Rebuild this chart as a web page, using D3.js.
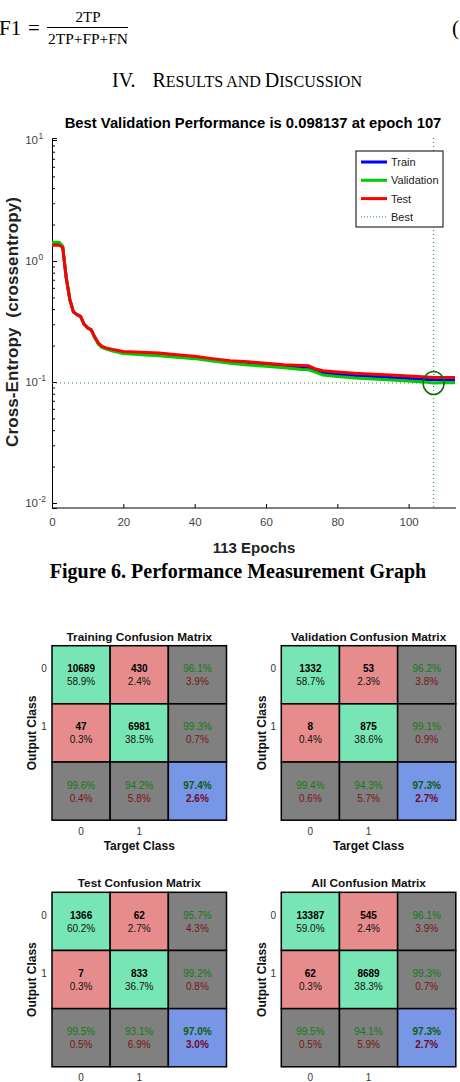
<!DOCTYPE html>
<html><head><meta charset="utf-8">
<script src="https://cdn.jsdelivr.net/npm/d3@7"></script>
<style>body{margin:0;background:#fff}svg{display:block}</style>
</head><body>
<svg id="c" width="460" height="1082"></svg>
<script>
// ---------- performance data ----------
const epochs =        [0,1,2,3,4,5,6,7,8,9,10,11,12,13,14,15,17,20,25,30,35,40,45,50,55,60,65,70,72,74,76,80,85,90,95,100,105,107,110,113];
const trainLoss =     [1.40,1.40,1.40,1.31,0.725,0.48,0.38,0.36,0.348,0.30,0.28,0.27,0.234,0.208,0.195,0.19,0.183,0.176,0.172,0.170,0.165,0.160,0.153,0.147,0.142,0.139,0.134,0.131,0.130,0.124,0.119,0.116,0.113,0.111,0.109,0.107,0.105,0.1045,0.104,0.104];
const validationLoss =[1.43,1.43,1.43,1.33,0.73,0.48,0.38,0.36,0.345,0.30,0.28,0.27,0.232,0.205,0.193,0.188,0.180,0.172,0.168,0.165,0.160,0.156,0.149,0.143,0.138,0.135,0.131,0.127,0.126,0.120,0.114,0.111,0.108,0.106,0.104,0.102,0.0995,0.098137,0.0985,0.0988];
const testLoss =      [1.35,1.35,1.35,1.30,0.72,0.48,0.38,0.36,0.35,0.30,0.28,0.27,0.235,0.21,0.197,0.192,0.186,0.179,0.176,0.174,0.168,0.163,0.156,0.150,0.147,0.143,0.139,0.137,0.136,0.128,0.124,0.121,0.118,0.116,0.114,0.112,0.110,0.109,0.109,0.109];
const bestEpoch = 107, bestValue = 0.098137, totalEpochs = 113;
const xTickValues = [0,20,40,60,80,100];
const yTickExponents = [-2,-1,0,1];
const legendNames = ["Train","Validation","Test","Best"];

// ---------- confusion data ----------
const classLabels = ["0","1"];
const trainingCounts = [[10689,430],[47,6981]];
const trainingPercents = [["58.9%","2.4%"],["0.3%","38.5%"]];
const trainingRowStats = [["96.1%","3.9%"],["99.3%","0.7%"]];
const trainingColStats = [["99.6%","0.4%"],["94.2%","5.8%"]];
const trainingTotal = ["97.4%","2.6%"];
const validationCounts = [[1332,53],[8,875]];
const validationPercents = [["58.7%","2.3%"],["0.4%","38.6%"]];
const validationRowStats = [["96.2%","3.8%"],["99.1%","0.9%"]];
const validationColStats = [["99.4%","0.6%"],["94.3%","5.7%"]];
const validationTotal = ["97.3%","2.7%"];
const testCounts = [[1366,62],[7,833]];
const testPercents = [["60.2%","2.7%"],["0.3%","36.7%"]];
const testRowStats = [["95.7%","4.3%"],["99.2%","0.8%"]];
const testColStats = [["99.5%","0.5%"],["93.1%","6.9%"]];
const testTotal = ["97.0%","3.0%"];
const allCounts = [[13387,545],[62,8689]];
const allPercents = [["59.0%","2.4%"],["0.3%","38.3%"]];
const allRowStats = [["96.1%","3.9%"],["99.3%","0.7%"]];
const allColStats = [["99.5%","0.5%"],["94.1%","5.9%"]];
const allTotal = ["97.3%","2.7%"];

const svg = d3.select("#c");
const SANS = "'Liberation Sans', Arial, sans-serif";
const SERIF = "'Liberation Serif', 'Times New Roman', serif";

// ---------- header text ----------
svg.append("text").attr("x",-1).attr("y",35).attr("font-family",SERIF).attr("font-size",21).text("F1");
svg.append("text").attr("x",28).attr("y",35).attr("font-family",SERIF).attr("font-size",21).text("=");
svg.append("text").attr("x",88).attr("y",22).attr("text-anchor","middle").attr("font-family",SERIF).attr("font-size",15)
  .attr("textLength",25).attr("lengthAdjust","spacingAndGlyphs").text("2TP");
svg.append("line").attr("x1",47).attr("x2",128).attr("y1",27.5).attr("y2",27.5).attr("stroke","#000").attr("stroke-width",1);
svg.append("text").attr("x",88).attr("y",44).attr("text-anchor","middle").attr("font-family",SERIF).attr("font-size",15)
  .attr("textLength",80).attr("lengthAdjust","spacingAndGlyphs").text("2TP+FP+FN");
svg.append("text").attr("x",452).attr("y",35).attr("font-family",SERIF).attr("font-size",21).text("(");
const hd = svg.append("text").attr("x",112).attr("y",87).attr("font-family",SERIF).attr("font-size",20);
hd.append("tspan").text("IV.");
hd.append("tspan").attr("x",152.5).text("R");
hd.append("tspan").attr("font-size",16).text("ESULTS AND ");
hd.append("tspan").text("D");
hd.append("tspan").attr("font-size",16).text("ISCUSSION");

// ---------- performance chart ----------
const x = d3.scaleLinear().domain([0,totalEpochs]).range([52,455]);
const y = d3.scaleLog().domain([Math.pow(10,-2-5/121), Math.pow(10,1+2/121)]).range([508,138]);

svg.append("text").attr("x",253).attr("y",128).attr("text-anchor","middle").attr("font-family",SANS)
  .attr("font-weight","bold").attr("font-size",14.8).text("Best Validation Performance is 0.098137 at epoch 107");

// y axis
const yAx = svg.append("g").attr("transform","translate(52,0)")
  .call(d3.axisLeft(y).tickValues(yTickExponents.map(e=>Math.pow(10,e))).tickSize(-5).tickFormat(""));
const minor = [];
yTickExponents.slice(0,3).forEach(e=>{for(let k=2;k<=9;k++) minor.push(k*Math.pow(10,e));});
svg.append("g").attr("transform","translate(52,0)")
  .call(d3.axisLeft(y).tickValues(minor).tickSize(-3).tickFormat("")).select(".domain").remove();
svg.selectAll(".tick line").attr("stroke","#000");
yAx.select(".domain").attr("stroke","#000");
yTickExponents.forEach(e=>{
  svg.append("text").attr("x",38).attr("y",y(Math.pow(10,e))+4).attr("text-anchor","end").attr("font-family",SANS)
    .attr("fill","#444").attr("font-size",11.5).text("10");
  svg.append("text").attr("x",38.5).attr("y",y(Math.pow(10,e))-1).attr("font-family",SANS).attr("fill","#444")
    .attr("font-size",8.5).text(e<0 ? "-"+(-e) : String(e));
});
// x axis
const xAx = svg.append("g").attr("transform","translate(0,508)")
  .call(d3.axisBottom(x).tickValues(xTickValues).tickSize(-4).tickPadding(10));
xAx.selectAll("text").attr("font-family",SANS).attr("font-size",11.5).attr("fill","#444");
xAx.selectAll("line").attr("stroke","#000");
xAx.select(".domain").attr("stroke","#000").attr("d","M52,0H456");

svg.append("text").attr("x",254).attr("y",553).attr("text-anchor","middle").attr("font-family",SANS)
  .attr("font-weight","bold").attr("font-size",15).attr("fill","#222").text("113 Epochs");
svg.append("text").attr("transform","translate(18,322) rotate(-90)").attr("text-anchor","middle").attr("font-family",SANS)
  .attr("font-weight","bold").attr("font-size",17).attr("fill","#222").attr("textLength",250).attr("xml:space","preserve")
  .text("Cross-Entropy  (crossentropy)");

// best markers
const bestColor = "#1f8a1f";
svg.append("line").attr("x1",x(0)).attr("x2",x(totalEpochs)).attr("y1",y(bestValue)).attr("y2",y(bestValue))
  .attr("stroke",bestColor).attr("stroke-width",1).attr("stroke-dasharray","1,3");
svg.append("line").attr("x1",x(bestEpoch)).attr("x2",x(bestEpoch)).attr("y1",138).attr("y2",508)
  .attr("stroke",bestColor).attr("stroke-width",1).attr("stroke-dasharray","1,3");

const line = d3.line().x((d,i)=>x(epochs[i])).y(d=>y(d)).curve(d3.curveLinear);
[[trainLoss,"#0000ff"],[validationLoss,"#00cc00"],[testLoss,"#ff0000"]].forEach(([s,c])=>{
  svg.append("path").datum(s).attr("d",line).attr("fill","none").attr("stroke",c).attr("stroke-width",3).attr("stroke-linejoin","round");
});
svg.append("ellipse").attr("cx",x(bestEpoch)).attr("cy",y(bestValue)).attr("rx",10.5).attr("ry",11.5)
  .attr("fill","none").attr("stroke","#0a6e0a").attr("stroke-width",1.5);

// legend
const lg = svg.append("g");
lg.append("rect").attr("x",356).attr("y",151).attr("width",87).attr("height",76).attr("fill","#fff").attr("stroke","#000").attr("stroke-width",1);
const legColors = ["#0000ff","#00cc00","#ff0000",bestColor];
legendNames.forEach((n,i)=>{
  const yy = 162 + i*18.3;
  const l = lg.append("line").attr("x1",361).attr("x2",387).attr("y1",yy).attr("y2",yy).attr("stroke",legColors[i]);
  if(i<3) l.attr("stroke-width",3); else l.attr("stroke-width",1).attr("stroke-dasharray","1,2");
  lg.append("text").attr("x",391).attr("y",yy+4).attr("font-family",SANS).attr("font-size",11).attr("fill","#222").text(n);
});

// caption
svg.append("text").attr("x",238).attr("y",578).attr("text-anchor","middle").attr("font-family",SERIF)
  .attr("font-weight","bold").attr("font-size",20).text("Figure 6. Performance Measurement Graph");

// ---------- confusion matrices ----------
function drawCM(x0, y0, title, counts, pcts, rowStats, colStats, total, showTarget){
  const size = 174.5;
  const bx = d3.scaleBand().domain([0,1,2]).range([x0,x0+size]);
  const by = d3.scaleBand().domain([0,1,2]).range([y0,y0+size]);
  const g = svg.append("g");
  const cells = [];
  for(let r=0;r<3;r++) for(let c=0;c<3;c++) cells.push({r,c});
  const fillOf = d => (d.r===2&&d.c===2) ? "#7896e6" : (d.r===2||d.c===2) ? "#808080" : (d.r===d.c ? "#78e6b4" : "#e68c8c");
  g.selectAll("rect").data(cells).join("rect")
    .attr("x",d=>bx(d.c)).attr("y",d=>by(d.r)).attr("width",bx.bandwidth()).attr("height",by.bandwidth())
    .attr("fill",fillOf).attr("stroke","#000").attr("stroke-width",1.5);
  cells.forEach(d=>{
    const cx = bx(d.c)+bx.bandwidth()/2, cy = by(d.r)+by.bandwidth()/2;
    let t1,t2,c1,c2,w1,w2;
    if(d.r<2&&d.c<2){ t1=String(counts[d.r][d.c]); t2=pcts[d.r][d.c]; c1="#000"; c2="#111"; w1="bold"; w2="normal"; }
    else if(d.r===2&&d.c===2){ t1=total[0]; t2=total[1]; c1="#0b5e0b"; c2="#6e0a1e"; w1="bold"; w2="bold"; }
    else if(d.c===2){ t1=rowStats[d.r][0]; t2=rowStats[d.r][1]; c1="#137a13"; c2="#7a1414"; w1="normal"; w2="normal"; }
    else { t1=colStats[d.c][0]; t2=colStats[d.c][1]; c1="#137a13"; c2="#7a1414"; w1="normal"; w2="normal"; }
    g.append("text").attr("x",cx).attr("y",cy-6).attr("dy","0.35em").attr("text-anchor","middle")
      .attr("font-family",SANS).attr("font-size",10).attr("font-weight",w1).attr("fill",c1).text(t1);
    g.append("text").attr("x",cx).attr("y",cy+7).attr("dy","0.35em").attr("text-anchor","middle")
      .attr("font-family",SANS).attr("font-size",10).attr("font-weight",w2).attr("fill",c2).text(t2);
  });
  g.append("text").attr("x",x0+size/2).attr("y",y0-9).attr("dy","0.35em").attr("text-anchor","middle")
    .attr("font-family",SANS).attr("font-weight","bold").attr("font-size",11.8).attr("fill","#111").text(title);
  classLabels.forEach((l,i)=>{
    g.append("text").attr("x",x0-8).attr("y",by(i)+by.bandwidth()/2-6).attr("dy","0.35em").attr("text-anchor","middle")
      .attr("font-family",SANS).attr("font-size",10).attr("fill","#333").text(l);
    g.append("text").attr("x",bx(i)+bx.bandwidth()/2).attr("y",y0+size+11).attr("dy","0.35em").attr("text-anchor","middle")
      .attr("font-family",SANS).attr("font-size",10).attr("fill","#333").text(l);
  });
  g.append("text").attr("transform",`translate(${x0-20},${y0+size/2}) rotate(-90)`).attr("dy","0.35em").attr("text-anchor","middle")
    .attr("font-family",SANS).attr("font-weight","bold").attr("font-size",12).attr("fill","#111").text("Output Class");
  if(showTarget) g.append("text").attr("x",x0+size/2).attr("y",y0+size+26).attr("dy","0.35em").attr("text-anchor","middle")
    .attr("font-family",SANS).attr("font-weight","bold").attr("font-size",12).attr("fill","#111").text("Target Class");
}
drawCM(52,645.7,"Training Confusion Matrix",trainingCounts,trainingPercents,trainingRowStats,trainingColStats,trainingTotal,true);
drawCM(281.3,645.7,"Validation Confusion Matrix",validationCounts,validationPercents,validationRowStats,validationColStats,validationTotal,true);
drawCM(52,892.3,"Test Confusion Matrix",testCounts,testPercents,testRowStats,testColStats,testTotal,false);
drawCM(281.3,892.3,"All Confusion Matrix",allCounts,allPercents,allRowStats,allColStats,allTotal,false);
</script>
</body></html>
